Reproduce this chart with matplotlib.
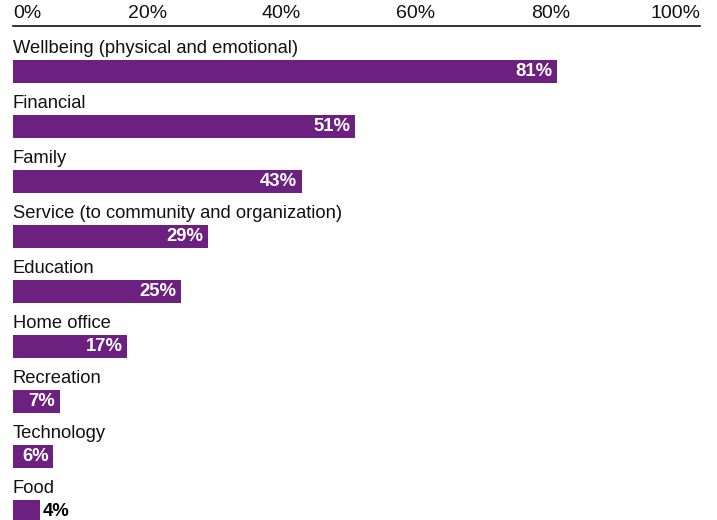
import matplotlib.pyplot as plt

plt.rcParams['font.family'] = ['Liberation Sans', 'DejaVu Sans']

categories = ['Wellbeing (physical and emotional)', 'Financial', 'Family',
              'Service (to community and organization)', 'Education',
              'Home office', 'Recreation', 'Technology', 'Food']
values = [81, 51, 43, 29, 25, 17, 7, 6, 4]
ticks = [0, 20, 40, 60, 80, 100]
tick_labels = ['0%', '20%', '40%', '60%', '80%', '100%']

purple = '#6c2180'

fig = plt.figure(figsize=(7.17, 5.2), dpi=100)
ax = fig.add_axes([13 / 717, 0, 687 / 717, 494 / 520])

ypos = list(range(len(categories)))
ax.barh(ypos, values, height=0.42, color=purple)

for i, (cat, v) in enumerate(zip(categories, values)):
    ax.text(0, i - 0.42, cat, ha='left', va='center', fontsize=13.2, color='#111111')
    if v >= 5:
        ax.text(v - 0.7, i, f'{v}%', ha='right', va='center', fontsize=13.3,
                fontweight='bold', color='white')
    else:
        ax.text(v + 0.4, i, f'{v}%', ha='left', va='center', fontsize=13.3,
                fontweight='bold', color='black')

xmax = 102.3
ax.set_xlim(0, xmax)
ax.set_ylim(8.155, -0.827)

# tick labels above the top line; end labels kept inside the line
ax.set_xticks(ticks)
ax.set_xticklabels([])
ax.tick_params(axis='x', length=0, top=False, bottom=False)
tr = ax.get_xaxis_transform()
for t, lab in zip(ticks, tick_labels):
    if t == 0:
        ax.text(t, 1.008, lab, transform=tr, ha='left', va='bottom', fontsize=14, color='#111111')
    elif t == 100:
        ax.text(xmax, 1.008, lab, transform=tr, ha='right', va='bottom', fontsize=14, color='#111111')
    else:
        ax.text(t, 1.008, lab, transform=tr, ha='center', va='bottom', fontsize=14, color='#111111')

ax.set_yticks([])
for s in ['bottom', 'left', 'right']:
    ax.spines[s].set_visible(False)
ax.spines['top'].set_linewidth(1.2)
ax.spines['top'].set_color('#111111')

fig.savefig('out.png', dpi=100)
